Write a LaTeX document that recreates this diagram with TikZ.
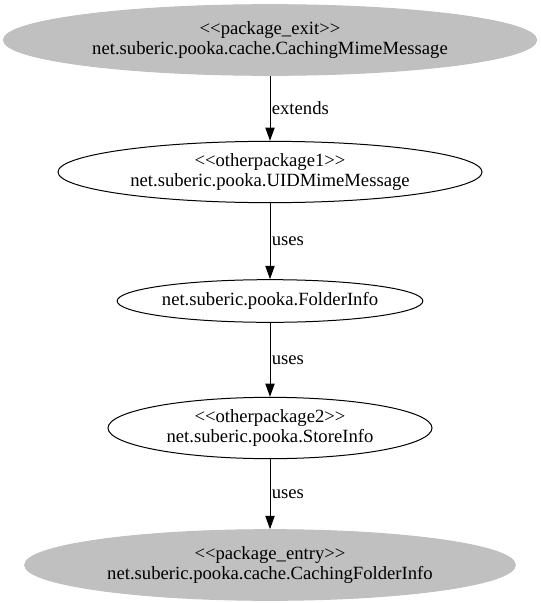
\documentclass[tikz,border=0pt]{standalone}
\usepackage{fontspec}
\setmainfont{Liberation Serif}
\usetikzlibrary{shapes.geometric,arrows.meta}
\definecolor{gvgray}{RGB}{192,192,192}
\tikzset{
  cls/.style={ellipse,draw=black,line width=0.75pt,inner sep=0pt,align=center,
    font=\fontsize{14pt}{14.5pt}\selectfont},
  pkg/.style={cls,draw=gvgray,fill=gvgray},
  dep/.style={line width=0.75pt,-{Triangle[length=10pt,width=7pt]}},
  lbl/.style={anchor=west,inner sep=1pt,font=\fontsize{14pt}{14.5pt}\selectfont}
}
\begin{document}
\begin{tikzpicture}[x=0.75pt,y=-0.75pt]
\useasboundingbox (0,0) rectangle (541,603);
\node[pkg,minimum width=400pt,minimum height=53pt] (exit) at (270,40)
  {<{}<package\_exit>{}>\\net.suberic.pooka.cache.CachingMimeMessage};
\node[cls,minimum width=318pt,minimum height=46pt] (uid) at (270,172)
  {<{}<otherpackage1>{}>\\net.suberic.pooka.UIDMimeMessage};
\node[cls,minimum width=225pt,minimum height=32pt] (folder) at (270,301)
  {net.suberic.pooka.FolderInfo};
\node[cls,minimum width=243pt,minimum height=46pt] (store) at (270,428)
  {<{}<otherpackage2>{}>\\net.suberic.pooka.StoreInfo};
\node[pkg,minimum width=368pt,minimum height=53pt] (entry) at (270,565)
  {<{}<package\_entry>{}>\\net.suberic.pooka.cache.CachingFolderInfo};
\draw[dep] (exit) -- node[lbl] {extends} (uid);
\draw[dep] (uid) -- node[lbl] {uses} (folder);
\draw[dep] (folder) -- node[lbl] {uses} (store);
\draw[dep] (store) -- node[lbl] {uses} (entry);
\end{tikzpicture}
\end{document}
